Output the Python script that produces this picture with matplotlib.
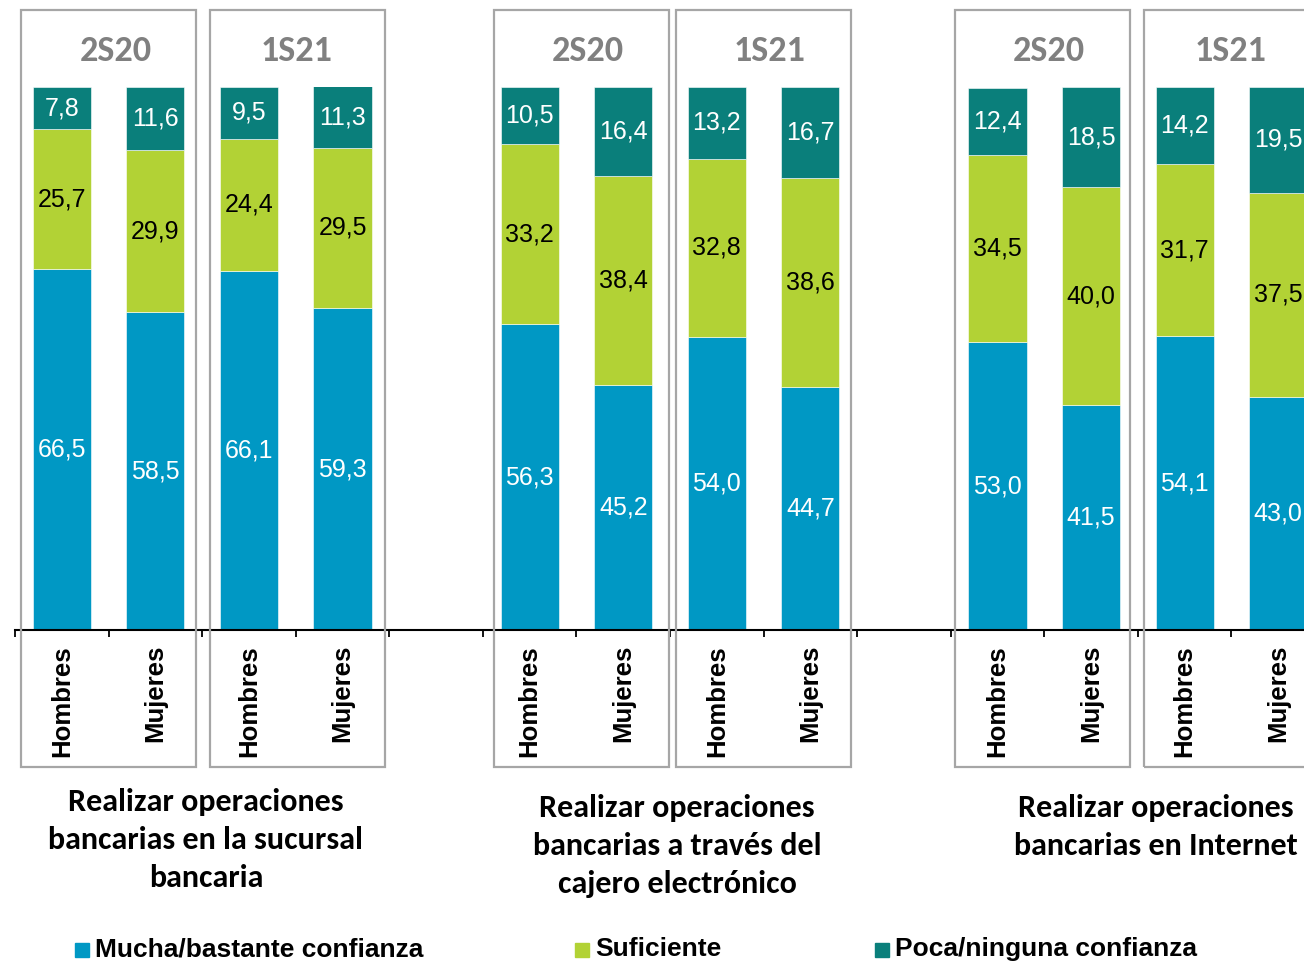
import matplotlib
matplotlib.use("Agg")
import matplotlib.pyplot as plt
import matplotlib.transforms as mtransforms
from matplotlib.patches import Rectangle
from matplotlib import font_manager as fm

# data
periods = ["2S20", "1S21"]
sexes = ["Hombres", "Mujeres"]
group_titles = [
    "Realizar operaciones\nbancarias en la sucursal\nbancaria",
    "Realizar operaciones\nbancarias a través del\ncajero electrónico",
    "Realizar operaciones\nbancarias en Internet",
]
series_names = ["Mucha/bastante confianza", "Suficiente", "Poca/ninguna confianza"]

# order per group: 2S20 Hombres, 2S20 Mujeres, 1S21 Hombres, 1S21 Mujeres
mucha = [66.5, 58.5, 66.1, 59.3,
         56.3, 45.2, 54.0, 44.7,
         53.0, 41.5, 54.1, 43.0]
suficiente = [25.7, 29.9, 24.4, 29.5,
              33.2, 38.4, 32.8, 38.6,
              34.5, 40.0, 31.7, 37.5]
poca = [7.8, 11.6, 9.5, 11.3,
        10.5, 16.4, 13.2, 16.7,
        12.4, 18.5, 14.2, 19.5]

colors = ["#0098C4", "#B2D235", "#0A7F7B"]
label_colors = ["white", "black", "white"]

# bar slots: 4 bars per group, 1 empty slot between groups
slots = [0, 1, 2, 3, 5, 6, 7, 8, 10, 11, 12, 13]

# calibri-like font if there is one
installed = {f.name for f in fm.fontManager.ttflist}
calib = [f for f in ["Carlito", "Lato"] if f in installed][:1] + ["DejaVu Sans"]
is_carlito = calib[0] == "Carlito"

W, H = 1304, 963
fig = plt.figure(figsize=(W / 100, H / 100), dpi=100)
ax = fig.add_axes([15 / W, 333 / H, 1310 / W, 543 / H])

bottoms = [0] * len(slots)
for vals, col, lc in zip([mucha, suficiente, poca], colors, label_colors):
    ax.bar(slots, vals, bottom=bottoms, width=0.62, color=col,
           edgecolor="white", linewidth=0.4)
    for x, b, v in zip(slots, bottoms, vals):
        ax.text(x, b + v / 2, f"{v:.1f}".replace(".", ","), ha="center",
                va="center", fontsize=18, color=lc, family="Liberation Sans")
    bottoms = [b + v for b, v in zip(bottoms, vals)]

ax.set_xlim(-0.5, 13.5)
ax.set_ylim(0, 100)
for s in ["top", "left", "right"]:
    ax.spines[s].set_visible(False)
ax.spines["bottom"].set_linewidth(1.5)
ax.set_yticks([])
ax.set_xticks([i - 0.5 for i in range(15)])
ax.set_xticklabels([])
ax.tick_params(axis="x", direction="out", length=5, width=1.3, color="black")

trans = mtransforms.blended_transform_factory(ax.transData, fig.transFigure)

# box left edges and header centres in pixels (reference)
box_left = [21, 210, 494, 676, 955, 1144]
box_w = 175
head_x = [116, 297, 588, 770, 1049, 1231]

for g in range(3):
    for p in range(2):
        start = g * 5 + p * 2
        for k, sex in enumerate(sexes):
            ax.text(start + k, 1 - 645 / H, sex, rotation=90, ha="center", va="top",
                    fontsize=18.5, fontweight="bold", family="Liberation Sans",
                    transform=trans, clip_on=False)
        i = g * 2 + p
        fig.add_artist(Rectangle((box_left[i] / W, 1 - 767 / H), box_w / W,
                                 (767 - 10) / H, transform=fig.transFigure,
                                 fill=False, edgecolor="#A6A6A6", linewidth=1.6))
        fig.text(head_x[i] / W, 1 - 51 / H, periods[p], ha="center",
                 va="center", fontsize=26 if is_carlito else 23,
                 fontweight="bold", color="#808080", family=calib)

# group titles
title_x = [206, 677, 1156]
title_y = [840, 846, 827]
for tx, ty, t in zip(title_x, title_y, group_titles):
    fig.text(tx / W, 1 - ty / H, t, ha="center", va="center",
             fontsize=23 if is_carlito else 20, fontweight="bold", family=calib,
             linespacing=1.45)

# legend
leg_x = [75, 575, 875]
for lx, name, col in zip(leg_x, series_names, colors):
    fig.add_artist(Rectangle((lx / W, 1 - 957 / H), 14 / W, 14 / H,
                             transform=fig.transFigure, color=col))
    fig.text((lx + 20) / W, 1 - 949 / H, name, ha="left", va="center",
             fontsize=19, fontweight="bold", family="Liberation Sans")

fig.savefig("out.png", dpi=100)
